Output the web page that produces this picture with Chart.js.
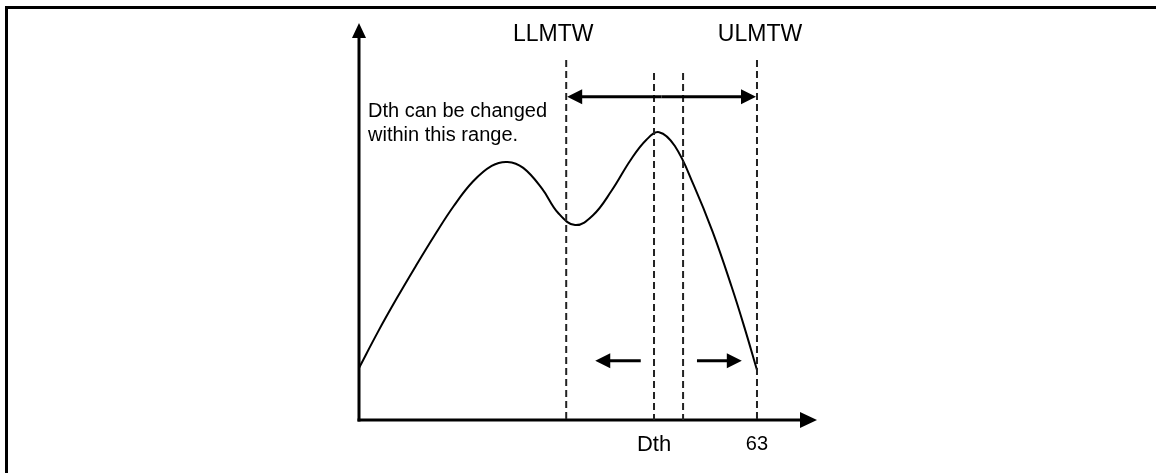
<!DOCTYPE html>
<html lang="en">
<head>
<meta charset="UTF-8" />
<title>Dth threshold range</title>
<script src="https://cdn.jsdelivr.net/npm/chart.js"></script>
<style>
  body { margin: 0; background: #fff; }
  canvas { display: block; }
</style>
</head>
<body>
<canvas id="chart" width="1156" height="473"></canvas>
<script>
// histogram-like curve, x runs 0..63
const xValues = [0, 3, 6, 9, 12, 15, 18, 21, 23.5, 26, 29, 31.5, 34.2, 37, 40, 43, 45.5, 47.5, 50, 53, 56, 59, 61, 63];
const yValues = [13.1, 22.2, 30.7, 38.8, 46.6, 53.9, 60, 64, 65, 63.5, 58.2, 52.2, 49.1, 51.5, 57.8, 65.5, 70.6, 72.5, 69, 59.1, 47.3, 33.5, 23.4, 12.6];

const limitNames = ['LLMTW', 'ULMTW'];
const limitX = [32.8, 63];
const dthX = [46.7, 51.3];

const tickValues = [46.7, 63];
const tickLabels = ['Dth', '63'];

const noteLines = ['Dth can be changed', 'within this range.'];

const FONT = '"Liberation Sans", Arial, sans-serif';

function arrow(ctx, x1, y1, x2, y2, len, half, lw) {
  const a = Math.atan2(y2 - y1, x2 - x1);
  const bx = x2 - Math.cos(a) * len, by = y2 - Math.sin(a) * len;
  ctx.lineWidth = lw;
  ctx.beginPath();
  ctx.moveTo(x1, y1);
  ctx.lineTo(bx + Math.cos(a) * 2, by + Math.sin(a) * 2);
  ctx.stroke();
  ctx.beginPath();
  ctx.moveTo(x2, y2);
  ctx.lineTo(bx - Math.sin(a) * half, by + Math.cos(a) * half);
  ctx.lineTo(bx + Math.sin(a) * half, by - Math.cos(a) * half);
  ctx.closePath();
  ctx.fill();
}

const decor = {
  id: 'decor',
  afterDatasetsDraw(chart) {
    const ctx = chart.ctx;
    const xs = chart.scales.x, ys = chart.scales.y;
    const area = chart.chartArea;
    const X = v => xs.getPixelForValue(v);
    const Y = v => ys.getPixelForValue(v);

    ctx.save();
    ctx.fillStyle = '#000';
    ctx.strokeStyle = '#000';

    // frame (left + top only)
    ctx.fillRect(5, 6, 1151, 3);
    ctx.fillRect(5, 6, 3, 467);

    // axes with arrowheads
    arrow(ctx, area.left, Y(0) + 1.5, area.left, area.top, 15, 7, 3);
    arrow(ctx, area.left - 1.5, Y(0), area.right, Y(0), 17, 8, 3);

    // dashed markers
    ctx.setLineDash([7, 4]);
    ctx.lineWidth = 2;
    ctx.strokeStyle = '#222';
    limitX.forEach(v => {
      ctx.beginPath();
      ctx.moveTo(X(v), Y(90.7));
      ctx.lineTo(X(v), Y(0));
      ctx.stroke();
    });
    dthX.forEach(v => {
      ctx.beginPath();
      ctx.moveTo(X(v), Y(87.4));
      ctx.lineTo(X(v), Y(0));
      ctx.stroke();
    });
    ctx.setLineDash([]);
    ctx.strokeStyle = '#000';

    // range arrow between limits
    const ry = Y(81.4);
    arrow(ctx, (X(limitX[0]) + X(limitX[1])) / 2, ry, X(limitX[0]) + 1, ry, 15, 7.5, 3);
    arrow(ctx, (X(limitX[0]) + X(limitX[1])) / 2, ry, X(limitX[1]) - 1, ry, 15, 7.5, 3);

    // direction arrows
    const ay = Y(14.9);
    arrow(ctx, X(44.6), ay, X(37.4), ay, 15, 7.5, 3);
    arrow(ctx, X(53.5), ay, X(60.6), ay, 15, 7.5, 3);

    // labels
    ctx.font = '23px ' + FONT;
    ctx.textAlign = 'center';
    ctx.textBaseline = 'alphabetic';
    ctx.fillText(limitNames[0], X(limitX[0]) - 13, 41);
    ctx.fillText(limitNames[1], X(limitX[1]) + 3, 41);

    ctx.font = '20px ' + FONT;
    ctx.textAlign = 'left';
    noteLines.forEach((t, i) => ctx.fillText(t, area.left + 9, 117 + i * 24));

    ctx.restore();
  }
};

new Chart(document.getElementById('chart'), {
  type: 'line',
  data: {
    labels: xValues,
    datasets: [{
      data: xValues.map((x, i) => ({ x: x, y: yValues[i] })),
      borderColor: '#000',
      borderWidth: 2,
      pointRadius: 0,
      tension: 0.4,
      fill: false
    }]
  },
  options: {
    responsive: false,
    animation: false,
    devicePixelRatio: 1,
    layout: { padding: { left: 359, right: 339, top: 23, bottom: 2.6 } },
    plugins: { legend: { display: false }, tooltip: { enabled: false } },
    scales: {
      x: {
        type: 'linear',
        min: 0,
        max: 72.5,
        grid: { display: false, drawTicks: false },
        border: { display: false },
        afterBuildTicks: s => { s.ticks = tickValues.map(v => ({ value: v })); },
        ticks: {
          autoSkip: false,
          maxRotation: 0,
          color: '#000',
          padding: 12,
          callback: (v, i) => tickLabels[i],
          font: c => ({ family: FONT, size: c.index === 0 ? 22 : 20 })
        }
      },
      y: {
        display: false,
        min: 0,
        max: 100
      }
    }
  },
  plugins: [decor]
});
</script>
</body>
</html>
